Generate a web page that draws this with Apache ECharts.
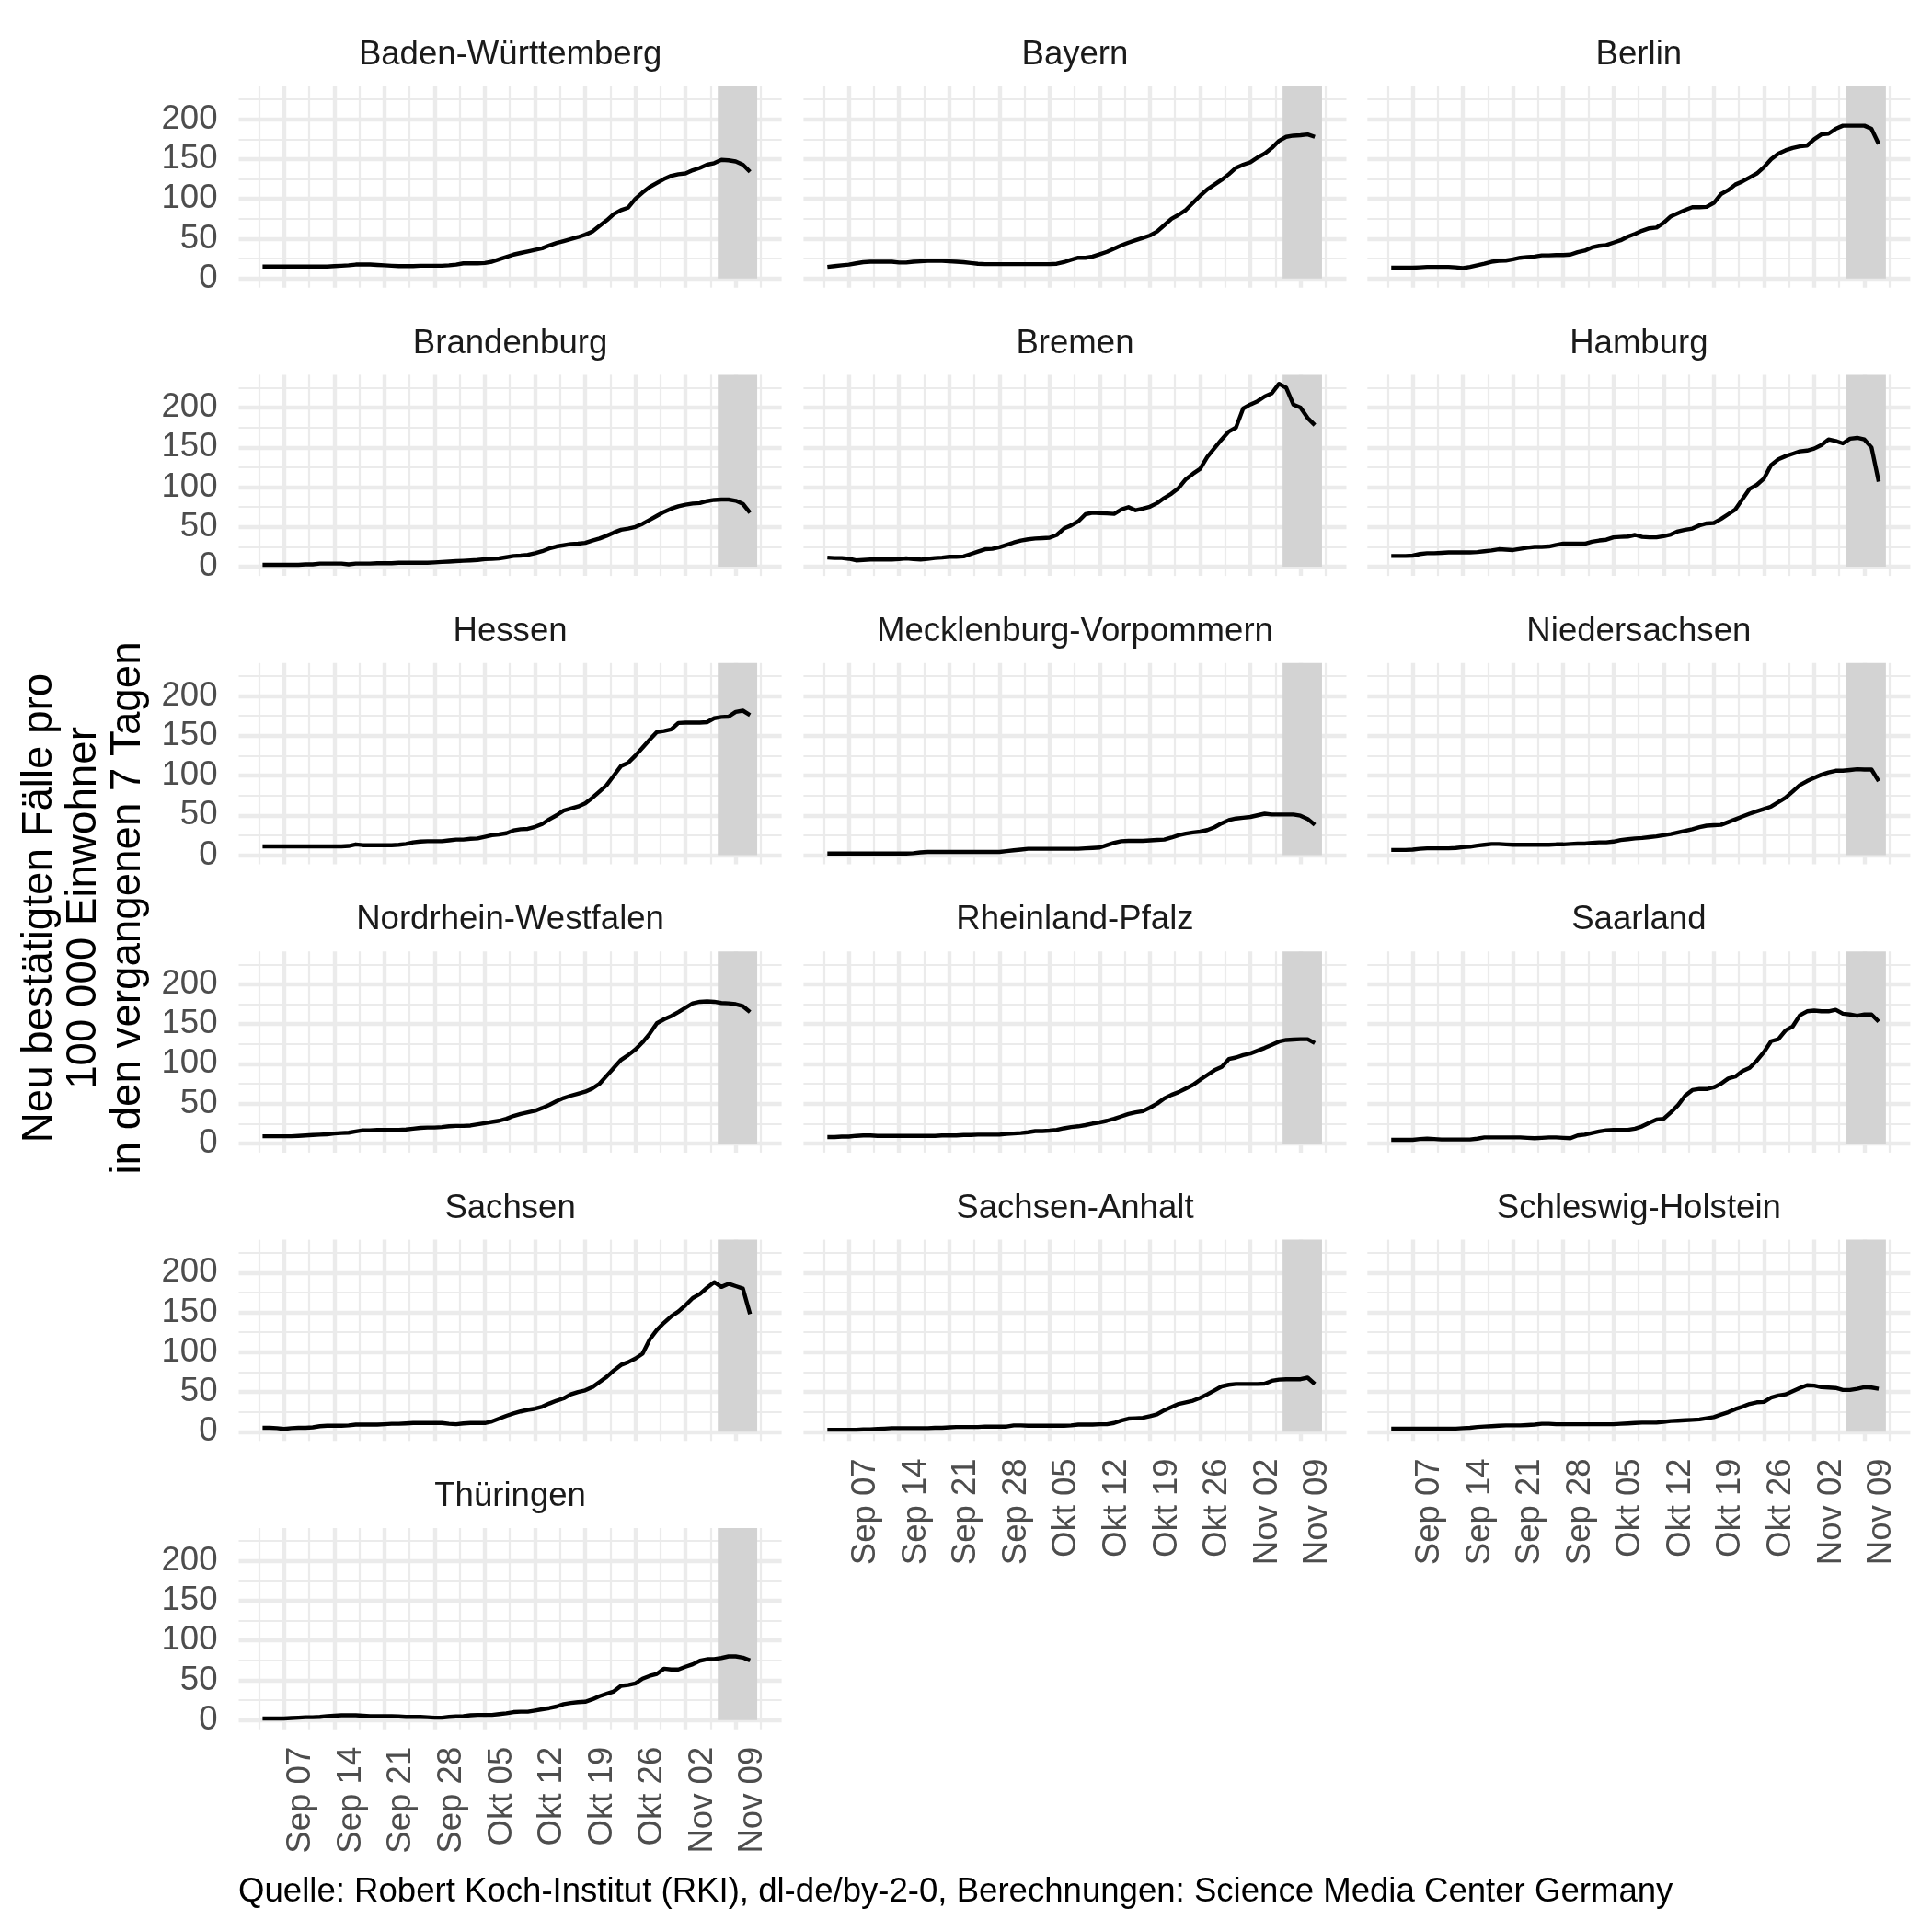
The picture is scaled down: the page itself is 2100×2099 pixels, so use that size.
<!DOCTYPE html>
<html><head><meta charset="utf-8">
<script src="https://cdn.jsdelivr.net/npm/echarts@6/dist/echarts.min.js"></script>
<style>html,body{margin:0;padding:0;background:#fff}#c{width:2100px;height:2099px}</style>
</head><body><div id="c"></div><script>
// ---------- data ----------
const states = ['Baden-Württemberg','Bayern','Berlin','Brandenburg','Bremen','Hamburg','Hessen',
  'Mecklenburg-Vorpommern','Niedersachsen','Nordrhein-Westfalen','Rheinland-Pfalz','Saarland',
  'Sachsen','Sachsen-Anhalt','Schleswig-Holstein','Thüringen'];
const START_DATE = '2020-09-04';           // first date of every series (one value per day)
const REF_DATE = '2020-09-07';             // first labelled tick
const tickLabels = ['Sep 07','Sep 14','Sep 21','Sep 28','Okt 05','Okt 12','Okt 19','Okt 26','Nov 02','Nov 09'];
const shadeFrom = '2020-11-06T12:00:00Z';
const shadeTo = '2020-11-12T00:00:00Z';
const yTickLabels = [0, 50, 100, 150, 200];

const bw = [15,15,15,15,15,15,15,15,15,15,15.5, 16,16.5,17.5,17.5,17.5,17,16.5,16,15.5,15.5,
  15.5,16,16,16,16,16.5,17.5,19,19,19, 19.5,21,24,27,30,32,34,36,38,41.5,
  44.5,47,49.5,52,55,59,66,73,81,86, 89,100,108,115,120,125,129,131,132,136, 139,143,145,149,148.5,147,143,134];
const bayern = [14.5,15.5,16.5,17.5,19,20.5,21,21,21,21,20, 20,21,21.5,22,22,22,21.5,21,20.5,19.5,
  18.5,18,18,18,18,18,18,18,18,18, 18,18.5,20.5,23.5,26,26,27.5,30.5,33.5,37.5,
  41.5,45,48,51,54,59,67,75,80,86, 95,104,112,118,124,131,139,143,146,152, 157,164,173,178,179.5,180,181,178];
const berlin = [13.5,13.5,13.5,13.5,14,14.5,14.5,14.5,14.5,14,13, 14.5,16.5,18.5,21,22,22.5,24,26,27,27.5,
  29,29,29.5,29.5,30,33,35,39,41,42, 45,48,52.5,56,60,63,64,70,78,82,
  86,89.5,89.5,90,95,106,111,118,122,127, 132,140,150,157,161,164,166,167,175,181, 182,188,192,192,192,192,188,169];
const brandenburg = [2.5,2.5,2.5,2.5,2.5,2.5,3,3,4,4,4, 4,3,4,4,4,4.5,4.5,4.5,5,5,
  5,5,5,5.5,6,6.5,7,7.5,8,8.5, 9.5,10,10.5,12,13.5,14,15,17,19.5,23,
  25.5,27,28.5,29,30,33,35.5,39,43,46.5, 48,50,54,59,64,69,73,76,78,79.5, 80,82.5,84,84.5,84.5,83,79,68];
const bremen = [11.5,11,11,10,8,8.5,9,9,9,9,9.5, 10.5,9.5,9,10,11,11.5,12.5,12.5,13,16,
  19,22,22.5,24.5,27.5,30.5,33,34.5,35.5,36, 36.5,40,48,52,57,66,68,67.5,67,66.5,
  72,75,71,73,75.5,80,86.5,92,99,110, 117,123,138,149,160,170,175,199,204,208, 214,218,230,225,204,200,187,178];
const hamburg = [13.5,13.5,13.5,14,16,17,17,17.5,18,18,18, 18,18.5,19.5,20.5,22,21.5,21,22.5,24,25,
  25,25.5,27.5,29,29,29,29,31.5,33,34, 37,37.5,38,40,37.5,37,37,38.5,40.5,44.5,
  46.5,48,52,54.5,55,60,66,72,85,98, 103,111,128,135,139,142,145,146,148.5,153, 160,158,155,161,162,160,150,107];
const hessen = [11,11,11,11,11,11,11,11,11,11,11, 11,11.5,13.5,12.5,12.5,12.5,12.5,12.5,13,14,
  16,17,17.5,17.5,17.5,18.5,19.5,19.5,20.5,21, 23,25,26,27.5,31,32.5,33,35.5,39,45,
  50,56,58.5,61,65,72,80,88,100,112, 116,125,135,145,154.5,156,158,166,166.5,166.5, 166.5,167,172,173.5,174,180,181.5,176];
const mv = [2,2,2,2,2,2,2,2,2,2,2, 2,2.5,3.5,4,4,4,4,4,4,4,
  4,4,4,4,5,6,7,8,8,8, 8,8,8,8,8,8.5,9,9.5,12.5,15.5,
  17.5,18,18,18,18.5,19,19.5,22,25,27, 28.5,29.5,31.5,35,40,44,46,47,48,50, 52,51,51,51,51,49.5,45.5,38];
const niedersachsen = [6.5,6.5,6.5,7,8,8.5,8.5,8.5,8.5,9,10, 10.5,12,13,14,14,13.5,13,13,13,13,
  13,13,13.5,13.5,14,14.5,14.5,15.5,16,16, 17,19,20,21,21.5,22.5,23.5,25,26.5,28.5,
  30.5,32.5,35,37,37.5,38,41.5,45,48.5,52, 55,58,61,66.5,72,80,88,93,97,101, 104,106,106,107,108,107.5,107.5,93];
const nrw = [9,9,9,9,9,9.5,10,10.5,11,11.5,12.5, 13,13.5,15,16.5,16.5,17,17,17,17,17.5,
  18.5,19.5,20,20,20.5,21.5,22,22,22.5,24, 25.5,27,28.5,31,34.5,37,39,41,44.5,48.5,
  53,57,60,62.5,65,69,75,85,95,105, 111,118,127,138,151,156,160,165,170.5,176, 178,178.5,178,176.5,176,175,172.5,165];
const rp = [8,8,8.5,8.5,9.5,10,10,9.5,9.5,9.5,9.5, 9.5,9.5,9.5,9.5,9.5,10,10,10,10.5,10.5,
  11,11,11,11,12,12.5,13,14,15.5,15.5, 16,17,19,20.5,21.5,23,25,26.5,28.5,31,
  34,37,39,40.5,45,50,56.5,61,64.5,69, 73.5,80,86,92,96,106,108,111,113,116.5, 120,124,128,130,130.5,131,131,126];
const saarland = [4.5,4.5,4.5,4.5,5.5,6,5.5,5,5,5,5, 5,6,7.5,7.5,7.5,7.5,7.5,7.5,7,6.5,
  7,7.5,7.5,7,6.5,10,11,13,15,16.5, 17,17,17,18.5,21.5,26,30,31,39,48,
  60,67,68.5,68.3,70.5,75,81.5,84,91,95, 104,115,128.5,131,142,147,161,166,167,166, 166,168,163,162,160.5,162,162,153];
const sachsen = [5,5,4.5,3.5,4.5,5,5,5.5,7,7.5,7.5, 7.5,8,9,9,9,9,9.5,10,10,10.5,
  11,11,11,11,11,10,9.5,10.5,11,11, 11,13,16.5,20,23,25.5,27.5,29,31.5,35.5,
  39,42,47,50,52,56,62.5,69,77,84, 87.5,92,98,116,128,137,145,151,159,168, 173,181,188,182,186,183,180,148];
const sachsenAnhalt = [2.5,2.5,2.5,2.5,2.5,3,3,3.5,4,4.5,4.5, 4.5,4.5,4.5,4.5,5,5,5.5,6,6,6,
  6,6.5,6.5,6.5,6.5,8,8,7.5,7.5,7.5, 7.5,7.5,7.5,8,9,9,9,9.5,9.5,11,
  14,16.5,17,17.5,19.5,22,27,31,35,37, 39,42.5,47,52,57,59,60,60,60,60, 60.5,64,65.5,66,66,66,68,60];
const schleswigHolstein = [4,4,4,4,4,4,4,4,4,4,4.5, 5,6,6.5,7,7.5,8,8,8,8.5,9,
  10,10,9.5,9.5,9.5,9.5,9.5,9.5,9.5,9.5, 9.5,10,10.5,11,11.5,11.5,11.5,12.5,13.5,14,
  14.5,15,15.5,17,18.5,21.5,24.5,28.5,31.5,35, 37,37.5,43,45.5,47,51,55,58.5,58,56, 55.5,55,52.5,52.5,54,56,55.5,54];
const thueringen = [2,2,2,2,2.5,3,3.5,3.5,4,5,5.5, 6,6,6,5.5,5,5,5,5,4.5,4,
  4,4,3.5,3,3,4,4.5,5,6,6.5, 6.5,6.5,7.5,8.5,10,10.5,10.5,12,13.5,15,
  17,20,21.5,22.5,23,26,30,33,36,43, 44,46,52,55.5,58,64.5,63.5,63.5,67,70, 74.5,76.5,76.5,78,80,80,78.5,75];

const seriesValues = [bw,bayern,berlin,brandenburg,bremen,hamburg,hessen,mv,niedersachsen,nrw,rp,saarland,
  sachsen,sachsenAnhalt,schleswigHolstein,thueringen];

// ---------- layout (pixels) ----------
const FONT = "'Liberation Sans', Arial, sans-serif";
const COL_LEFT = [259.5, 873.4, 1486.3];
const PANEL_W = 590.1, PANEL_H = 218.7;
const ROW_TOP0 = 94, ROW_STEP = 313.4;
const PX_PER_DAY = 7.792, REF_OFF = 49.3;     // REF_DATE offset from panel left
const PX_PER_UNIT = 0.865, ZERO_OFF = 208.7;  // y=0 offset from panel top
const Y_MIN = -(PANEL_H - ZERO_OFF) / PX_PER_UNIT;
const Y_MAX = ZERO_OFF / PX_PER_UNIT;
const GRID_MAJOR = 4.4, GRID_MINOR = 2.2, GRID_COLOR = '#EBEBEB';

const DAY = 86400000;
const refT = Date.parse(REF_DATE + 'T00:00:00Z');
const startT = Date.parse(START_DATE + 'T00:00:00Z');
const dayOf = (k) => (startT - refT) / DAY + k;
const shadeX0 = (Date.parse(shadeFrom) - refT) / DAY;
const shadeX1 = (Date.parse(shadeTo) - refT) / DAY;

const bottomPanels = [13, 14, 15];
const grids = [], xAxes = [], yAxes = [], series = [], graphics = [];

states.forEach((name, i) => {
  const r = Math.floor(i / 3), c = i % 3;
  const L = COL_LEFT[c], T = ROW_TOP0 + r * ROW_STEP;
  // grid V: data + vertical grid lines
  grids.push({left: L + REF_OFF - 7 * PX_PER_DAY, top: T, width: 77 * PX_PER_DAY, height: PANEL_H,
    outerBoundsMode: 'none', containLabel: false});
  // grid H: horizontal grid lines + y labels
  grids.push({left: L, top: T + ZERO_OFF - 250 * PX_PER_UNIT, width: PANEL_W, height: 250 * PX_PER_UNIT,
    outerBoundsMode: 'none', containLabel: false});
  const isBottom = bottomPanels.includes(i);
  xAxes.push({
    type: 'value', gridIndex: 2 * i, min: -7, max: 70, interval: 7,
    axisLine: {show: false}, axisTick: {show: false},
    minorTick: {show: false, splitNumber: 2},
    splitLine: {show: true, showMinLine: false, showMaxLine: false, lineStyle: {color: GRID_COLOR, width: GRID_MAJOR}},
    minorSplitLine: {show: true, lineStyle: {color: GRID_COLOR, width: GRID_MINOR}},
    axisLabel: {
      show: isBottom, rotate: 90, margin: 19, color: '#4D4D4D', fontSize: 36.6, fontFamily: FONT,
      verticalAlign: 'top', showMinLabel: false, showMaxLabel: false,
      formatter: (v) => {
        const k = Math.round(v / 7);
        return (Math.abs(v - 7 * k) < 1e-6 && k >= 0 && k < tickLabels.length) ? tickLabels[k] : '';
      }
    }
  });
  xAxes.push({type: 'value', gridIndex: 2 * i + 1, min: 0, max: 1, show: false});
  yAxes.push({type: 'value', gridIndex: 2 * i, min: Y_MIN, max: Y_MAX, show: false, splitLine: {show: false}});
  yAxes.push({
    type: 'value', gridIndex: 2 * i + 1, min: 0, max: 250, interval: 50,
    axisLine: {show: false}, axisTick: {show: false},
    minorTick: {show: false, splitNumber: 2},
    splitLine: {show: true, showMinLine: true, showMaxLine: false, lineStyle: {color: GRID_COLOR, width: GRID_MAJOR}},
    minorSplitLine: {show: true, lineStyle: {color: GRID_COLOR, width: GRID_MINOR}},
    axisLabel: {
      show: c === 0, margin: 23, color: '#4D4D4D', fontSize: 36.6, fontFamily: FONT, showMaxLabel: false,
      padding: [4.6, 0, 0, 0],
      formatter: (v) => yTickLabels.includes(v) ? String(v) : ''
    }
  });
  // shaded area
  series.push({
    type: 'line', xAxisIndex: 2 * i, yAxisIndex: 2 * i, data: [], z: 1, silent: true,
    markArea: {silent: true, itemStyle: {color: '#D3D3D3', opacity: 1},
      data: [[{xAxis: shadeX0, yAxis: 0}, {xAxis: shadeX1, yAxis: Y_MAX}]]}
  });
  series.push({
    type: 'line', name, xAxisIndex: 2 * i, yAxisIndex: 2 * i, z: 5, silent: true,
    data: seriesValues[i].map((v, k) => [dayOf(k), v]),
    showSymbol: false, symbol: 'none', smooth: false,
    lineStyle: {color: '#000000', width: 4.4, cap: 'butt', join: 'round'}
  });
  graphics.push({
    type: 'text', x: L + PANEL_W / 2, y: T - 33.8, silent: true,
    style: {text: name, font: `36.6px ${FONT}`, fill: '#1A1A1A', textAlign: 'center', textVerticalAlign: 'middle'}
  });
});

graphics.push({
  type: 'text', x: 91, y: 987, rotation: Math.PI / 2, silent: true,
  style: {text: 'Neu bestätigten Fälle pro\n100 000 Einwohner\nin den vergangenen 7 Tagen',
    font: `45.7px ${FONT}`, fill: '#000000', textAlign: 'center', textVerticalAlign: 'middle', lineHeight: 48}
});
graphics.push({
  type: 'text', x: 259, y: 2057, silent: true,
  style: {text: 'Quelle: Robert Koch-Institut (RKI), dl-de/by-2-0, Berechnungen: Science Media Center Germany',
    font: `36.6px ${FONT}`, fill: '#000000', textAlign: 'left', textVerticalAlign: 'middle'}
});

const chart = echarts.init(document.getElementById('c'), null, {renderer: 'canvas'});
chart.setOption({
  animation: false,
  backgroundColor: '#ffffff',
  grid: grids, xAxis: xAxes, yAxis: yAxes, series,
  graphic: graphics,
  tooltip: {show: false}
});
</script></body></html>
